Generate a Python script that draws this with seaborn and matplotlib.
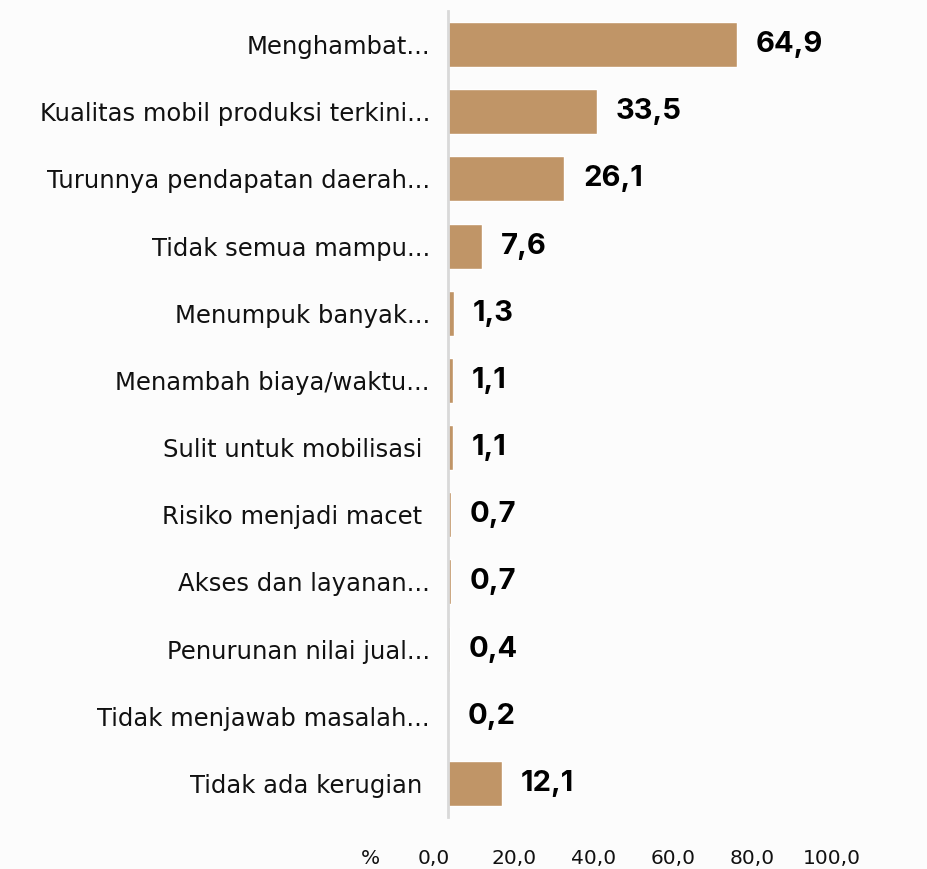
import seaborn as sns
import matplotlib.pyplot as plt
import pandas as pd

# Survey answers (%), top to bottom as shown in the chart
categories = [
    "Menghambat...",
    "Kualitas mobil produksi terkini...",
    "Turunnya pendapatan daerah...",
    "Tidak semua mampu...",
    "Menumpuk banyak...",
    "Menambah biaya/waktu...",
    "Sulit untuk mobilisasi ",
    "Risiko menjadi macet ",
    "Akses dan layanan...",
    "Penurunan nilai jual...",
    "Tidak menjawab masalah...",
    "Tidak ada kerugian ",
]
values = [64.9, 33.5, 26.1, 7.6, 1.3, 1.1, 1.1, 0.7, 0.7, 0.4, 0.2, 12.1]
tick_values = [0, 20, 40, 60, 80, 100]

bar_color = "#C09567"
bg_color = "#FCFCFC"

sns.set_style("white")
plt.rcParams['font.family'] = ['DejaVu Sans']

df = pd.DataFrame({'reason': categories, 'pct': values})

fig = plt.figure(figsize=(9.28, 8.69), dpi=100, facecolor=bg_color)
ax = fig.add_axes([448 / 928, 52 / 869, 480 / 928, 806 / 869])
ax.set_facecolor('none')

sns.barplot(data=df, x='pct', y='reason', color=bar_color, saturation=1,
            width=0.67, ax=ax)
ax.set_xlim(0, 107.9)
ax.set_ylim(11.5, -0.5)
ax.set_xticks([])
ax.set_xlabel('')
ax.set_ylabel('')
for side in ['top', 'right', 'bottom']:
    ax.spines[side].set_visible(False)
ax.spines['left'].set_color('#D9D9D9')
ax.spines['left'].set_linewidth(2)
ax.tick_params(axis='y', length=0, pad=13, labelsize=17.5, labelcolor='#111111')

# value labels next to each bar
for i, v in enumerate(values):
    ax.annotate(f"{v:.1f}".replace('.', ','), xy=(v, i), xytext=(19, 0),
                textcoords='offset pixels', va='center', ha='left',
                fontsize=21, fontweight='bold', color='black',
                family=['Inter', 'DejaVu Sans'])

# percentage scale along the bottom
tax = fig.add_axes([434 / 928, 20 / 869, 398 / 928, 0.0001])
tax.set_facecolor('none')
tax.set_xlim(0, 100)
tax.set_yticks([])
tax.set_xticks(tick_values)
tax.set_xticklabels([f"{t:.1f}".replace('.', ',') for t in tick_values])
tax.tick_params(axis='x', length=0, pad=0, labelsize=14.5, labelcolor='#111111')
for side in tax.spines:
    tax.spines[side].set_visible(False)
fig.text(370 / 928, 11 / 869, "%", ha='center', va='center', fontsize=14.5, color='#111111')

plt.savefig("out.png", dpi=100, facecolor=bg_color)
